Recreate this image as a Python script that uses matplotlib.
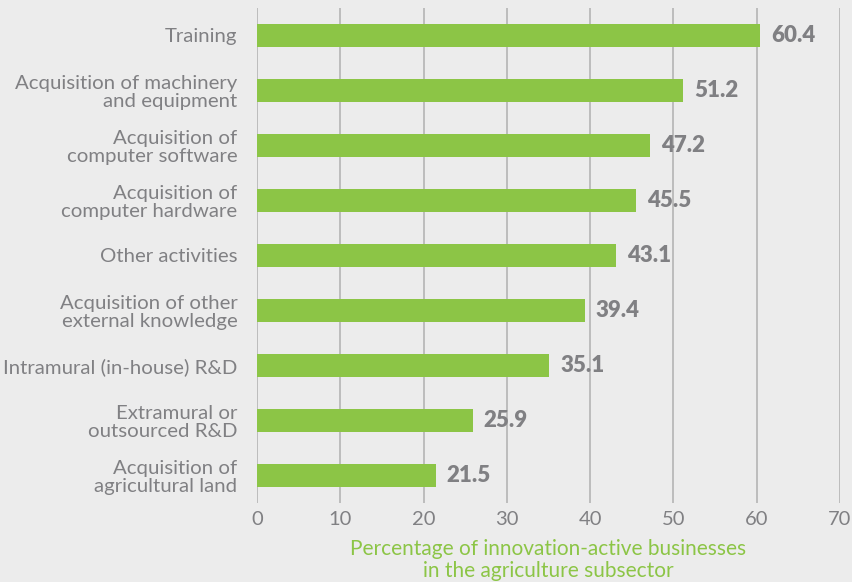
import matplotlib.pyplot as plt

# Innovation activities in the agriculture subsector
activities = ["Training",
              "Acquisition of machinery\nand equipment",
              "Acquisition of\ncomputer software",
              "Acquisition of\ncomputer hardware",
              "Other activities",
              "Acquisition of other\nexternal knowledge",
              "Intramural (in-house) R&D",
              "Extramural or\noutsourced R&D",
              "Acquisition of\nagricultural land"]
percent = [60.4, 51.2, 47.2, 45.5, 43.1, 39.4, 35.1, 25.9, 21.5]
xticks = [0, 10, 20, 30, 40, 50, 60, 70]

bg = "#ececec"
green = "#8cc546"
grey = "#808083"

plt.rcParams["font.family"] = ["Lato", "DejaVu Sans"]

fig = plt.figure(figsize=(8.52, 5.82), dpi=100, facecolor=bg)
ax = fig.add_axes([0.3016, 0.1357, 0.6843, 0.8506])
ax.set_facecolor(bg)

ypos = list(range(len(activities)))
ax.barh(ypos, percent, height=0.42, color=green, zorder=3)
for y, v in zip(ypos, percent):
    ax.text(v + 1.3, y, f"{v:.1f}", va="center", ha="left", fontsize=16,
            fontweight="heavy", color=grey, zorder=4)

ax.set_xlim(0, 70)
ax.set_ylim(8.5, -0.5)
ax.set_xticks(xticks)
ax.set_yticks(ypos)
ax.set_yticklabels(activities, fontsize=14.7, color=grey, linespacing=1.05)
ax.tick_params(axis="x", colors=grey, labelsize=14.5, length=0, pad=6)
ax.tick_params(axis="y", length=0, pad=14)
ax.grid(axis="x", color="#b4b4b4", linewidth=1.2, zorder=0)
for s in ax.spines.values():
    s.set_visible(False)

ax.set_xlabel("Percentage of innovation-active businesses\nin the agriculture subsector",
              color=green, fontsize=15, linespacing=1.1, labelpad=8)

fig.savefig("out.png", dpi=100, facecolor=bg)
